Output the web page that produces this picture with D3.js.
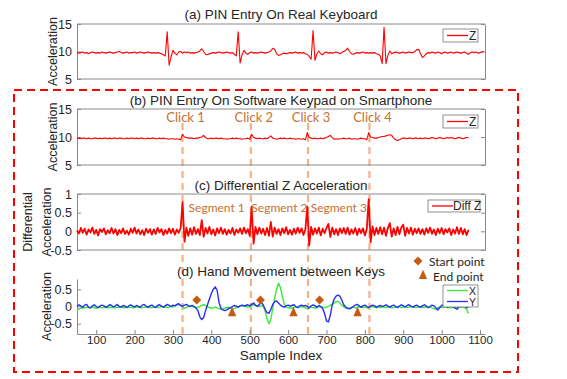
<!DOCTYPE html>
<html>
<head>
<meta charset="utf-8">
<script src="https://cdn.jsdelivr.net/npm/d3@7"></script>
<style>
  body { margin: 0; background: #fff; }
  figure { margin: 0; }
  svg { display: block; }
</style>
</head>
<body>
<figure id="chart"></figure>
<script>
// samples are read every 5 indices, starting at index 50
const startIdx = 50;
const step = 5;

// (a) Z acceleration, real keyboard
const zReal = [
  9.8, 9.7, 9.8, 9.9, 9.7, 9.8, 9.6, 9.8, 9.9, 9.8, 9.7, 9.8, 9.7, 9.9, 9.8, 9.7, 9.8, 9.9, 9.8, 9.7,
  9.8, 9.9, 10.0, 9.8, 9.7, 9.8, 9.9, 9.7, 9.8, 9.8, 9.9, 9.7, 9.8, 9.9, 9.8, 9.7, 9.8, 9.9, 9.8, 9.7,
  9.8, 9.7, 9.8, 9.7, 9.6, 9.4, 9.2, 13.6, 7.5, 9.0, 10.2, 9.7, 9.4, 9.9, 10.0, 9.7, 9.9, 9.8, 9.9, 9.7,
  9.8, 9.7, 9.8, 9.9, 10.1, 10.5, 10.0, 9.5, 9.4, 9.6, 9.7, 9.8, 9.7, 9.8, 9.9, 9.8, 9.7, 9.8, 9.9, 9.8,
  9.7, 9.8, 9.5, 9.2, 13.6, 7.9, 9.4, 10.2, 9.7, 9.5, 9.8, 9.9, 9.7, 9.8, 9.7, 9.8, 9.9, 9.8, 9.7, 9.8,
  9.9, 10.1, 10.6, 10.4, 9.6, 9.3, 9.4, 9.6, 9.7, 9.6, 9.7, 9.8, 9.7, 9.8, 9.9, 9.7, 9.8, 9.7, 9.8, 9.6,
  9.5, 9.1, 8.6, 13.8, 8.4, 9.6, 10.1, 9.6, 9.4, 9.8, 9.9, 9.7, 9.8, 9.7, 9.8, 9.9, 9.8, 9.6, 9.8, 10.0,
  10.2, 10.6, 10.0, 9.6, 9.5, 9.7, 9.8, 9.7, 9.8, 9.9, 9.7, 9.8, 9.7, 9.8, 9.7, 9.8, 9.6, 9.5, 9.2, 7.8,
  14.4, 7.8, 9.3, 10.1, 9.6, 9.8, 9.9, 9.8, 9.7, 9.8, 9.9, 9.7, 9.8, 9.9, 9.8, 9.8, 10.0, 10.3, 10.4, 9.6,
  8.9, 9.2, 9.6, 9.8, 9.7, 9.9, 9.8, 9.7, 9.9, 9.8, 9.6, 9.8, 9.9, 9.7, 9.8, 9.9, 9.7, 9.8, 9.9, 9.8,
  9.7, 9.8, 9.9, 9.7, 9.5, 9.8, 9.9, 9.8, 9.9, 9.7, 9.8, 9.9, 10.0
];

// (b) Z acceleration, software keypad
const zPhone = [
  9.7, 9.8, 9.7, 9.8, 9.8, 9.7, 9.8, 9.7, 9.7, 9.8, 9.8, 9.7, 9.8, 9.7, 9.8, 9.8, 9.7, 9.8, 9.7, 9.8,
  9.8, 9.7, 9.8, 9.8, 9.7, 9.7, 9.8, 9.7, 9.8, 9.8, 9.7, 9.8, 9.7, 9.8, 9.8, 9.7, 9.7, 9.8, 9.7, 9.8,
  9.8, 9.7, 9.7, 9.8, 9.7, 9.8, 9.7, 9.7, 9.6, 9.7, 9.7, 9.6, 9.7, 9.6, 9.5, 10.5, 10.0, 9.9, 9.8, 9.8,
  9.8, 9.7, 9.8, 9.8, 9.9, 10.0, 10.3, 9.9, 9.7, 9.7, 9.8, 9.7, 9.8, 9.8, 9.7, 9.8, 9.7, 9.7, 9.6, 9.7,
  9.7, 9.8, 9.7, 9.8, 9.7, 9.7, 9.6, 9.7, 9.7, 9.8, 9.6, 10.5, 9.9, 9.8, 9.7, 9.8, 9.7, 9.7, 9.8, 9.7,
  9.9, 10.2, 9.8, 9.7, 9.6, 9.7, 9.8, 9.7, 9.8, 9.7, 9.7, 9.8, 9.7, 9.7, 9.6, 9.7, 9.7, 9.6, 9.7, 9.5,
  10.8, 9.9, 9.8, 9.7, 9.8, 9.7, 9.7, 9.8, 9.7, 9.8, 9.9, 10.1, 10.3, 9.9, 9.6, 9.7, 9.6, 9.7, 9.7, 9.8,
  9.7, 9.7, 9.8, 9.6, 9.7, 9.7, 9.6, 9.7, 9.8, 9.7, 9.7, 9.5, 10.8, 10.0, 9.9, 9.8, 9.8, 9.9, 10.0, 10.1,
  10.1, 10.2, 10.3, 10.4, 10.3, 9.8, 9.5, 9.4, 9.5, 9.7, 9.8, 9.8, 9.7, 9.8, 9.8, 9.7, 9.8, 9.8, 9.7, 9.8,
  9.7, 9.8, 9.8, 9.7, 9.8, 9.9, 9.8, 9.7, 9.8, 9.9, 9.8, 9.7, 9.8, 9.9, 9.8, 9.9, 9.8, 9.7, 9.8, 9.9,
  9.8, 9.7, 9.8, 9.9, 9.9
];

// (c) differential Z
const diffZ = [
  0.03, -0.06, 0.09, -0.04, 0.07, -0.09, 0.05, -0.03, 0.1, -0.07, 0.04, -0.11, 0.06, -0.02, 0.08, -0.08, 0.03, -0.05, 0.09, -0.06,
  0.06, -0.1, 0.04, -0.05, 0.08, -0.07, 0.02, -0.09, 0.07, -0.04, 0.1, -0.06, 0.05, -0.08, 0.03, -0.1, 0.07, -0.04, 0.06, -0.09,
  0.05, -0.07, 0.09, -0.03, 0.06, -0.1, 0.04, -0.06, 0.08, -0.05, 0.07, -0.09, 0.05, -0.04, 0.09, 0.78, -0.28, 0.1, -0.12, 0.08,
  -0.09, 0.11, -0.07, 0.06, -0.1, 0.3, -0.15, 0.09, -0.06, 0.12, -0.08, 0.05, -0.11, 0.08, -0.05, 0.1, -0.07, 0.06, -0.09, 0.04,
  -0.06, 0.09, -0.1, 0.05, -0.04, 0.08, -0.07, 0.1, -0.05, 0.06, -0.12, 0.66, -0.33, 0.12, -0.08, 0.1, -0.06, 0.07, -0.1, 0.09,
  -0.12, 0.25, -0.14, 0.1, -0.07, 0.06, -0.1, 0.08, -0.05, 0.11, -0.08, 0.04, -0.09, 0.07, -0.06, 0.1, -0.04, 0.08, -0.1, 0.05,
  0.66, -0.38, 0.12, -0.09, 0.08, -0.06, 0.1, -0.11, 0.07, -0.05, 0.09, 0.2, -0.15, 0.1, -0.08, 0.06, -0.1, 0.08, -0.05, 0.09,
  -0.07, 0.1, -0.09, 0.05, -0.06, 0.09, -0.1, 0.07, -0.05, 0.08, -0.11, 0.06, 0.86, -0.29, 0.13, -0.1, 0.09, -0.07, 0.11, -0.08,
  0.1, -0.12, 0.09, 0.22, -0.14, 0.08, -0.1, 0.12, -0.08, 0.1, 0.18, -0.12, 0.09, -0.06, 0.1, -0.09, 0.07, -0.05, 0.08, -0.07,
  0.06, -0.09, 0.08, -0.04, 0.1, -0.07, 0.05, -0.1, 0.07, -0.05, 0.09, -0.08, 0.06, -0.03, 0.08, -0.1, 0.05, -0.06, 0.11, -0.07,
  0.09, -0.08, 0.06, -0.1, 0.04
];

// (d) hand movement, X and Y
const handX = [
  -0.1, -0.08, -0.05, -0.03, -0.04, -0.02, -0.03, -0.04, -0.02, -0.03, -0.05, -0.03, -0.02, -0.04, -0.03, -0.02, -0.04, -0.03, -0.02, -0.03,
  -0.04, -0.02, -0.03, -0.01, -0.03, -0.04, -0.02, -0.03, -0.02, -0.04, -0.03, -0.01, -0.02, -0.03, -0.04, -0.02, -0.01, -0.03, -0.02, -0.03,
  -0.02, -0.01, -0.03, -0.02, 0.0, -0.02, -0.01, -0.03, -0.02, 0.0, -0.01, 0.02, 0.04, 0.06, 0.03, -0.02, -0.05, -0.03, 0.0, 0.02,
  0.0, -0.02, -0.04, -0.02, 0.0, 0.03, 0.05, 0.03, 0.0, -0.03, -0.05, -0.04, -0.02, -0.04, -0.06, -0.08, -0.07, -0.05, -0.03, -0.02,
  -0.05, -0.08, -0.06, -0.03, -0.01, 0.02, 0.03, 0.02, 0.0, -0.02, -0.01, 0.03, 0.05, 0.03, 0.02, 0.0, 0.02, 0.02, -0.12, -0.35,
  -0.5, -0.38, -0.05, 0.25, 0.5, 0.68, 0.55, 0.3, 0.08, -0.02, -0.04, -0.03, -0.05, -0.03, -0.01, -0.03, -0.02, 0.0, -0.02, -0.04,
  -0.06, -0.04, -0.02, -0.03, -0.05, -0.03, -0.01, 0.0, -0.02, -0.03, -0.02, 0.0, 0.03, 0.06, 0.1, 0.14, 0.15, 0.1, 0.04, -0.01,
  -0.04, -0.06, -0.05, -0.03, -0.02, -0.04, -0.03, -0.01, -0.02, -0.03, -0.02, -0.04, -0.03, -0.01, 0.0, -0.02, -0.03, -0.02, -0.03, -0.01,
  -0.02, -0.03, -0.01, -0.02, -0.04, -0.03, -0.02, 0.0, -0.01, -0.03, -0.02, -0.01, -0.03, -0.02, 0.0, -0.01, -0.02, -0.03, -0.01, -0.02,
  -0.03, -0.02, -0.01, -0.03, -0.02, -0.04, -0.06, -0.08, -0.04, -0.02, -0.03, -0.02, -0.01, -0.03, -0.02, -0.04, -0.03, -0.02, -0.01, -0.03,
  -0.02, -0.01, -0.03, -0.08, -0.2
];
const handY = [
  0.0, 0.05, 0.02, -0.03, 0.04, 0.06, -0.02, -0.04, 0.02, 0.05, 0.0, -0.03, 0.01, 0.04, 0.02, -0.02, 0.0, 0.05, 0.03, -0.01,
  0.02, 0.06, 0.0, -0.02, 0.03, 0.01, -0.03, 0.02, 0.05, 0.01, -0.01, 0.03, 0.0, -0.02, 0.04, 0.06, 0.01, -0.02, 0.02, 0.04,
  0.0, -0.03, 0.03, 0.05, 0.01, -0.02, 0.02, 0.06, 0.03, 0.0, 0.04, 0.02, 0.06, 0.08, 0.03, 0.01, 0.04, 0.06, 0.02, 0.0,
  0.03, 0.0, -0.04, -0.12, -0.3, -0.38, -0.32, -0.12, 0.05, 0.22, 0.38, 0.5, 0.57, 0.48, 0.12, -0.05, -0.1, -0.12, -0.1, -0.06,
  -0.03, 0.0, 0.03, 0.01, -0.02, 0.02, 0.04, 0.01, 0.03, 0.05, 0.02, 0.06, 0.1, 0.04, 0.0, 0.06, 0.12, 0.05, -0.08, -0.18,
  -0.2, -0.08, 0.06, 0.14, 0.16, 0.1, 0.04, 0.0, -0.02, 0.02, 0.04, 0.01, 0.03, 0.05, 0.0, -0.03, 0.02, 0.04, 0.01, 0.03,
  0.0, -0.04, 0.02, 0.05, 0.02, -0.02, 0.03, 0.0, -0.06, -0.2, -0.42, -0.45, -0.25, 0.05, 0.22, 0.3, 0.33, 0.3, 0.18, 0.05,
  -0.02, -0.05, -0.07, -0.04, 0.0, 0.04, 0.06, 0.02, -0.02, 0.02, 0.04, 0.0, -0.03, 0.01, 0.04, 0.02, -0.02, 0.01, 0.03, 0.0,
  0.02, 0.05, 0.01, -0.02, 0.02, 0.04, 0.0, -0.03, 0.01, 0.05, 0.02, -0.01, 0.03, 0.05, 0.01, -0.02, 0.02, 0.04, 0.0, -0.02,
  0.02, 0.05, 0.01, -0.03, 0.0, 0.04, 0.02, -0.04, -0.1, -0.03, 0.03, 0.05, 0.01, -0.02, 0.03, 0.06, 0.0, -0.05, -0.08, 0.0,
  0.04, 0.06, 0.02, -0.04, 0.0
];

// annotations
const clickIdx = [325, 503, 652, 812];
const clickLabels = ["Click 1", "Click 2", "Click 3", "Click 4"];
const segmentLabels = ["Segment 1", "Segment 2", "Segment 3"];
const startPointIdx = [362, 528, 682];
const startPointVal = [0.19, 0.19, 0.19];
const endPointIdx = [454, 614, 781];
const endPointVal = [-0.19, -0.19, -0.19];

// ticks
const xTicks = [100, 200, 300, 400, 500, 600, 700, 800, 900, 1000, 1100];
const accTicks = [5, 10, 15];
const diffTicks = [-0.5, 0, 0.5, 1];
const handTicks = [-0.5, 0, 0.5];

const width = 567, height = 379;
const left = 77, right = 485;
const axisColor = "#8a8a8a";
const textColor = "#262626";
const annoColor = "#C55A11";
const sansFont = "'Liberation Sans', Arial, sans-serif";
const noteFont = "Lato, 'Open Sans', sans-serif";

const svg = d3.select("#chart").append("svg")
  .attr("width", width)
  .attr("height", height)
  .style("font-family", sansFont);

const x = d3.scaleLinear().domain([50, 1113]).range([left, right]);

function toPoints(vals) {
  return vals.map((v, i) => [startIdx + i * step, v]);
}

function styleAxis(g) {
  g.selectAll("path, line").attr("stroke", axisColor);
  g.selectAll("text").attr("fill", textColor).style("font-size", "12.5px").style("font-family", sansFont);
}

function drawPanel(o) {
  const y = d3.scaleLinear().domain(o.yDomain).range([o.bottom, o.top]);
  const g = svg.append("g");

  // title
  g.append("text")
    .attr("x", 281).attr("y", o.titleY)
    .attr("text-anchor", "middle")
    .style("font-size", "13.5px")
    .attr("fill", textColor)
    .text(o.title);

  // left axis, ticks pointing inside
  g.append("g")
    .attr("transform", "translate(" + left + ",0)")
    .call(d3.axisLeft(y).tickValues(o.ticks).tickSizeInner(-4).tickSizeOuter(0).tickPadding(5)
      .tickFormat(d => String(d)))
    .call(styleAxis);

  if (o.box) {
    g.append("g")
      .attr("transform", "translate(" + right + ",0)")
      .call(d3.axisRight(y).tickValues(o.ticks).tickSizeInner(-4).tickSizeOuter(0).tickFormat(""))
      .call(styleAxis);
    g.append("line")
      .attr("x1", left).attr("x2", right).attr("y1", o.top).attr("y2", o.top)
      .attr("stroke", axisColor);
    g.append("line")
      .attr("x1", left).attr("x2", right).attr("y1", o.bottom).attr("y2", o.bottom)
      .attr("stroke", axisColor);
  }

  // y label(s)
  o.yLabels.forEach(l => {
    g.append("text")
      .attr("transform", "translate(" + l.x + "," + ((o.top + o.bottom) / 2) + ") rotate(-90)")
      .attr("text-anchor", "middle")
      .attr("dominant-baseline", "central")
      .style("font-size", "12.5px")
      .attr("fill", textColor)
      .text(l.text);
  });

  return { g: g, y: y };
}

function drawLine(g, y, vals, color, w) {
  const line = d3.line().x(d => x(d[0])).y(d => y(d[1]));
  g.append("path")
    .datum(toPoints(vals))
    .attr("d", line)
    .attr("fill", "none")
    .attr("stroke", color)
    .attr("stroke-width", w)
    .attr("stroke-linejoin", "round");
}

function drawLegend(g, bx, by, bw, bh, items, lineX1, lineX2, textX, fs) {
  g.append("rect")
    .attr("x", bx).attr("y", by).attr("width", bw).attr("height", bh)
    .attr("fill", "#fff").attr("stroke", "#777").attr("stroke-width", 0.8);
  items.forEach((it, i) => {
    const cy = by + (i + 0.5) * bh / items.length;
    g.append("line")
      .attr("x1", lineX1).attr("x2", lineX2).attr("y1", cy).attr("y2", cy)
      .attr("stroke", it.color).attr("stroke-width", 1.3);
    g.append("text")
      .attr("x", textX).attr("y", cy)
      .attr("dominant-baseline", "central")
      .style("font-size", fs + "px")
      .attr("fill", textColor)
      .text(it.label);
  });
}

// outer red dashed frame
svg.append("rect")
  .attr("x", 14).attr("y", 90).attr("width", 504).attr("height", 282)
  .attr("fill", "none")
  .attr("stroke", "#ff0000")
  .attr("stroke-width", 2)
  .attr("stroke-dasharray", "8,5");

// vertical click lines (behind the data)
svg.selectAll(".clickLine")
  .data(clickIdx)
  .enter()
  .append("line")
  .attr("x1", d => x(d)).attr("x2", d => x(d))
  .attr("y1", 123).attr("y2", 337)
  .attr("stroke", "#F4B183")
  .attr("stroke-width", 2.2)
  .attr("stroke-dasharray", "7,5");

// (a)
const pa = drawPanel({
  title: "(a) PIN Entry On Real Keyboard", titleY: 19,
  top: 24, bottom: 79, yDomain: [5, 15], ticks: accTicks, box: true,
  yLabels: [{ x: 53, text: "Acceleration" }]
});
drawLine(pa.g, pa.y, zReal, "#ff0000", 1.1);
drawLegend(pa.g, 443, 29, 35, 13, [{ label: "Z", color: "#ff0000" }], 447, 468, 469, 12);

// (b)
const pb = drawPanel({
  title: "(b) PIN Entry On Software Keypad on Smartphone", titleY: 105,
  top: 109, bottom: 165, yDomain: [5, 15], ticks: accTicks, box: true,
  yLabels: [{ x: 53, text: "Acceleration" }]
});
drawLine(pb.g, pb.y, zPhone, "#ff0000", 1.1);
drawLegend(pb.g, 443, 115, 35, 13, [{ label: "Z", color: "#ff0000" }], 447, 468, 469, 12);

// (c)
const pc = drawPanel({
  title: "(c) Differential Z Acceleration", titleY: 190,
  top: 194, bottom: 250, yDomain: [-0.5, 1], ticks: diffTicks, box: true,
  yLabels: [{ x: 28, text: "Differential" }, { x: 47, text: "Acceleration" }]
});
drawLine(pc.g, pc.y, diffZ, "#ff0000", 1.8);
drawLegend(pc.g, 428, 200, 52, 12, [{ label: "Diff Z", color: "#ff0000" }], 432, 453, 453, 12);

// (d)
const pd = drawPanel({
  title: "(d) Hand Movement between Keys", titleY: 276,
  top: 279, bottom: 334, yDomain: [-0.8, 0.8], ticks: handTicks, box: false,
  yLabels: [{ x: 47, text: "Acceleration" }]
});
pd.g.append("g")
  .attr("transform", "translate(0,334)")
  .call(d3.axisBottom(x).tickValues(xTicks).tickSizeInner(-4).tickSizeOuter(0).tickPadding(2)
    .tickFormat(d => String(d)))
  .call(styleAxis)
  .selectAll("text").style("font-size", "11.5px");
pd.g.append("text")
  .attr("x", 281).attr("y", 360)
  .attr("text-anchor", "middle")
  .style("font-size", "13.5px")
  .attr("fill", textColor)
  .text("Sample Index");
drawLine(pd.g, pd.y, handX, "#33ee33", 1.4);
drawLine(pd.g, pd.y, handY, "#2b2bff", 1.4);
drawLegend(pd.g, 443, 285, 35, 22,
  [{ label: "X", color: "#33ee33" }, { label: "Y", color: "#2b2bff" }], 447, 468, 469, 10.5);

// start / end point markers
const diamond = d3.symbol().type(d3.symbolSquare).size(40);
const triangle = d3.symbol().type(d3.symbolTriangle).size(30);

pd.g.selectAll(".startPt")
  .data(startPointIdx)
  .enter()
  .append("path")
  .attr("d", diamond)
  .attr("transform", (d, i) => "translate(" + x(d) + "," + pd.y(startPointVal[i]) + ") rotate(45)")
  .attr("fill", annoColor);

pd.g.selectAll(".endPt")
  .data(endPointIdx)
  .enter()
  .append("path")
  .attr("d", triangle)
  .attr("transform", (d, i) => "translate(" + x(d) + "," + pd.y(endPointVal[i]) + ") scale(1,1.3)")
  .attr("fill", annoColor);

// marker legend (above panel d)
svg.append("path").attr("d", diamond)
  .attr("transform", "translate(418,261) rotate(45)").attr("fill", annoColor);
svg.append("text").attr("x", 429).attr("y", 261)
  .attr("dominant-baseline", "central")
  .style("font-family", noteFont).style("font-size", "12px").attr("fill", textColor)
  .text("Start point");
svg.append("path").attr("d", triangle)
  .attr("transform", "translate(423,276) scale(1,1.3)").attr("fill", annoColor);
svg.append("text").attr("x", 433).attr("y", 276)
  .attr("dominant-baseline", "central")
  .style("font-family", noteFont).style("font-size", "12px").attr("fill", textColor)
  .text("End point");

// click labels
svg.selectAll(".clickText")
  .data(clickIdx)
  .enter()
  .append("text")
  .attr("x", d => x(d) + 3)
  .attr("y", 117)
  .attr("text-anchor", "middle")
  .attr("dominant-baseline", "central")
  .style("font-family", noteFont)
  .style("font-size", "13px")
  .attr("fill", "#C8702F")
  .text((d, i) => clickLabels[i]);

// segment labels, centred between click lines
svg.selectAll(".segText")
  .data(segmentLabels)
  .enter()
  .append("text")
  .attr("x", (d, i) => (x(clickIdx[i]) + x(clickIdx[i + 1])) / 2)
  .attr("y", 207)
  .attr("text-anchor", "middle")
  .attr("dominant-baseline", "central")
  .style("font-family", noteFont)
  .style("font-size", "12px")
  .attr("fill", "#C8702F")
  .text(d => d);
</script>
</body>
</html>
